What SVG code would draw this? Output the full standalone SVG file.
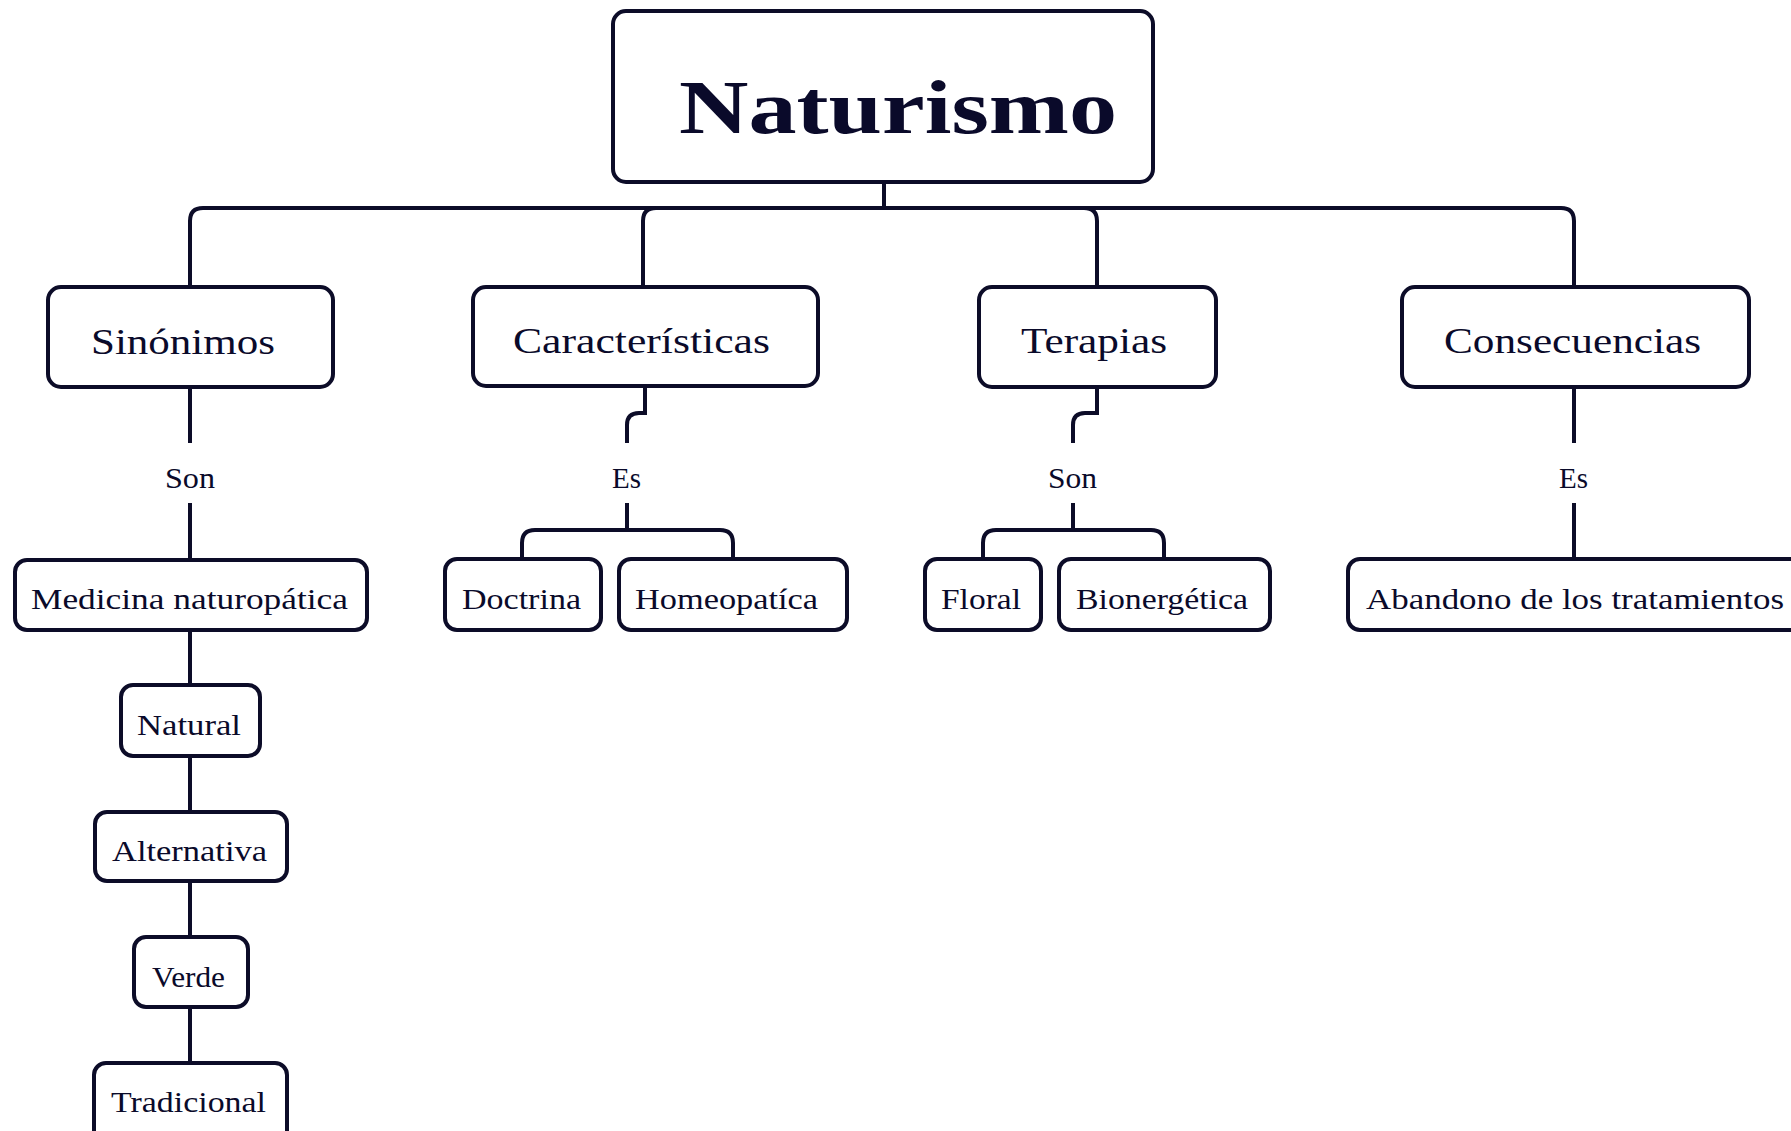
<svg xmlns="http://www.w3.org/2000/svg" width="1791" height="1131" viewBox="0 0 1791 1131">
<style>
.box{fill:#fff;stroke:#0c0c28;stroke-width:4}
.c{fill:none;stroke:#0c0c28;stroke-width:4}
text{font-family:"Liberation Serif","Times New Roman",serif;fill:#0a0a2a}
.t1{font-size:77px;font-weight:bold}
.t2{font-size:36px}
.t3{font-size:30px}
</style>
<rect width="1791" height="1131" fill="#fff"/>
<g id="connectors">
<path class="c" d="M884,182 V208"/>
<path class="c" d="M884,208 H203 Q190,208 190,221 V287"/>
<path class="c" d="M884,208 H656 Q643,208 643,221 V287"/>
<path class="c" d="M884,208 H1084 Q1097,208 1097,221 V287"/>
<path class="c" d="M884,208 H1561 Q1574,208 1574,221 V287"/>
<path class="c" d="M190,387 V443 M190,503 V560"/>
<path class="c" d="M645,386 V413 H639 Q627,413 627,425 V443 M627,503 V530"/>
<path class="c" d="M627,530 H535 Q522,530 522,543 V559 M627,530 H720 Q733,530 733,543 V559"/>
<path class="c" d="M1097,387 V413 H1085 Q1073,413 1073,425 V443 M1073,503 V530"/>
<path class="c" d="M1073,530 H996 Q983,530 983,543 V559 M1073,530 H1151 Q1164,530 1164,543 V559"/>
<path class="c" d="M1574,387 V443 M1574,503 V559"/>
<path class="c" d="M190,630 V685 M190,756 V812 M190,881 V937 M190,1007 V1063"/>
<text class="t3" x="165" y="488" textLength="50" lengthAdjust="spacingAndGlyphs">Son</text>
<text class="t3" x="612" y="488" textLength="29" lengthAdjust="spacingAndGlyphs">Es</text>
<text class="t3" x="1048" y="488" textLength="49" lengthAdjust="spacingAndGlyphs">Son</text>
<text class="t3" x="1559" y="488" textLength="29" lengthAdjust="spacingAndGlyphs">Es</text>
</g>
<g id="naturismo">
<rect class="box" x="613" y="11" width="540" height="171" rx="13"/>
<text class="t1" x="679" y="133" textLength="438" lengthAdjust="spacingAndGlyphs">Naturismo</text>
</g>
<g id="sinonimos">
<rect class="box" x="48" y="287" width="285" height="100" rx="13"/>
<text class="t2" x="91" y="354" textLength="184" lengthAdjust="spacingAndGlyphs">Sinónimos</text>
</g>
<g id="caracteristicas">
<rect class="box" x="473" y="287" width="345" height="99" rx="13"/>
<text class="t2" x="513" y="353" textLength="257" lengthAdjust="spacingAndGlyphs">Características</text>
</g>
<g id="terapias">
<rect class="box" x="979" y="287" width="237" height="100" rx="13"/>
<text class="t2" x="1021" y="353" textLength="146" lengthAdjust="spacingAndGlyphs">Terapias</text>
</g>
<g id="consecuencias">
<rect class="box" x="1402" y="287" width="347" height="100" rx="13"/>
<text class="t2" x="1444" y="353" textLength="257" lengthAdjust="spacingAndGlyphs">Consecuencias</text>
</g>
<g id="medicina">
<rect class="box" x="15" y="560" width="352" height="70" rx="12"/>
<text class="t3" x="31" y="609" textLength="317" lengthAdjust="spacingAndGlyphs">Medicina naturopática</text>
</g>
<g id="doctrina">
<rect class="box" x="445" y="559" width="156" height="71" rx="12"/>
<text class="t3" x="462" y="609" textLength="119" lengthAdjust="spacingAndGlyphs">Doctrina</text>
</g>
<g id="homeopatica">
<rect class="box" x="619" y="559" width="228" height="71" rx="12"/>
<text class="t3" x="635" y="609" textLength="183" lengthAdjust="spacingAndGlyphs">Homeopatíca</text>
</g>
<g id="floral">
<rect class="box" x="925" y="559" width="116" height="71" rx="12"/>
<text class="t3" x="941" y="609" textLength="80" lengthAdjust="spacingAndGlyphs">Floral</text>
</g>
<g id="bionergetica">
<rect class="box" x="1059" y="559" width="211" height="71" rx="12"/>
<text class="t3" x="1076" y="609" textLength="172" lengthAdjust="spacingAndGlyphs">Bionergética</text>
</g>
<g id="abandono">
<rect class="box" x="1348" y="559" width="460" height="71" rx="12"/>
<text class="t3" x="1366" y="609" textLength="418" lengthAdjust="spacingAndGlyphs">Abandono de los tratamientos</text>
</g>
<g id="natural">
<rect class="box" x="121" y="685" width="139" height="71" rx="12"/>
<text class="t3" x="137" y="735" textLength="104" lengthAdjust="spacingAndGlyphs">Natural</text>
</g>
<g id="alternativa">
<rect class="box" x="95" y="812" width="192" height="69" rx="12"/>
<text class="t3" x="112" y="861" textLength="155" lengthAdjust="spacingAndGlyphs">Alternativa</text>
</g>
<g id="verde">
<rect class="box" x="134" y="937" width="114" height="70" rx="12"/>
<text class="t3" x="152" y="987" textLength="73" lengthAdjust="spacingAndGlyphs">Verde</text>
</g>
<g id="tradicional">
<rect class="box" x="94" y="1063" width="193" height="80" rx="12"/>
<text class="t3" x="111" y="1112" textLength="155" lengthAdjust="spacingAndGlyphs">Tradicional</text>
</g>
</svg>
